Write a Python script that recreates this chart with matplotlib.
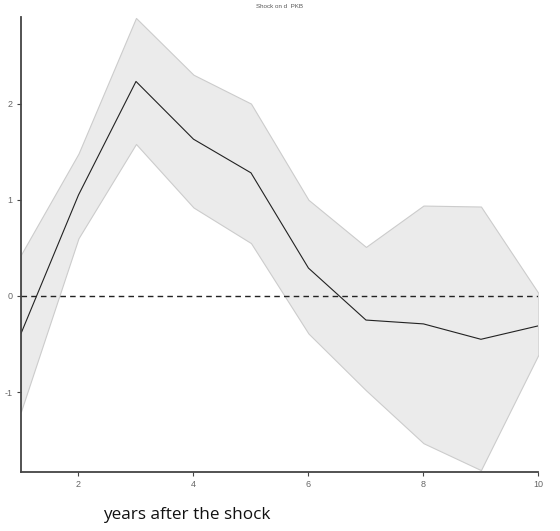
import numpy as np
import matplotlib.pyplot as plt

plt.rcParams['axes.unicode_minus'] = False
plt.rcParams['font.family'] = ['Liberation Sans', 'DejaVu Sans']

years = np.arange(1, 11)
irf = [-0.39, 1.05, 2.23, 1.63, 1.28, 0.29, -0.25, -0.29, -0.45, -0.31]
upper = [0.43, 1.48, 2.89, 2.30, 2.00, 1.00, 0.51, 0.94, 0.93, 0.03]
lower = [-1.20, 0.60, 1.58, 0.92, 0.55, -0.39, -0.98, -1.53, -1.81, -0.61]

fig = plt.figure(figsize=(5.6, 5.31), dpi=100)
ax = fig.add_axes([0.0375, 0.111, 0.924, 0.857])

ax.fill_between(years, lower, upper, facecolor='#ebebeb', edgecolor='#cccccc', linewidth=0.8)
ax.plot(years, irf, color='#222222', linewidth=0.8)
ax.axhline(0, color='#222222', linestyle=(0, (4, 3)), linewidth=1.0)

ax.set_xlim(1, 10)
ax.set_ylim(-1.83, 2.9)
ax.set_xticks([2, 4, 6, 8, 10])
ax.set_yticks([-1, 0, 1, 2])

for side in ['top', 'right']:
    ax.spines[side].set_visible(False)
for side in ['left', 'bottom']:
    ax.spines[side].set_color('#444444')
    ax.spines[side].set_linewidth(1.3)
ax.tick_params(length=3, width=0.8, color='#444444', labelsize=6.5, labelcolor='#666666', pad=3)

fig.text(0.5, 0.988, 'Shock on d  PKB', ha='center', va='center', fontsize=4.5, color='#555555')
fig.text(0.184, 0.03, 'years after the shock', ha='left', va='center', fontsize=12.3,
         family='Open Sans', color='#111111')

fig.savefig('out.png', dpi=100)
